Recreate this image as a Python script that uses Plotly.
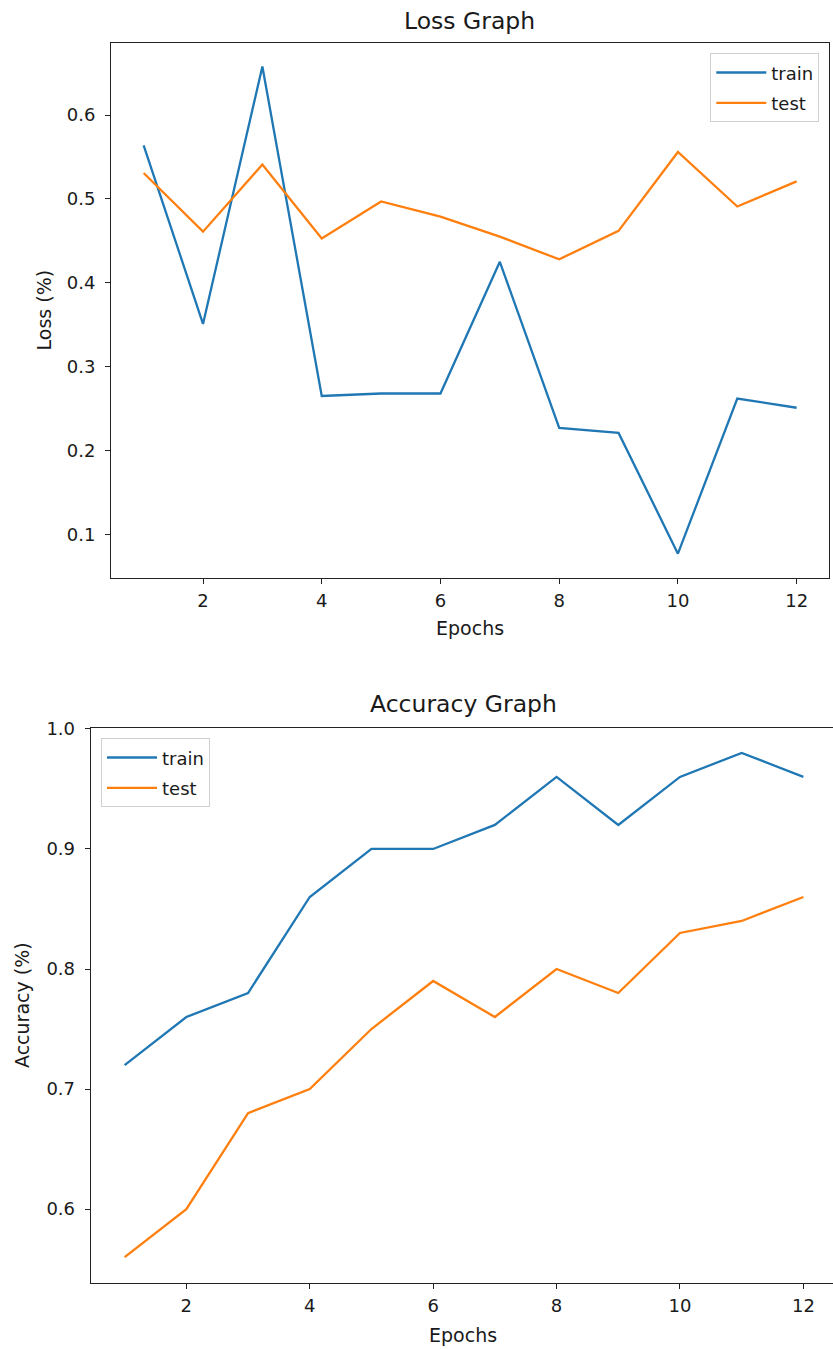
import plotly.graph_objects as go

W, H = 833, 1349

epochs = list(range(1, 13))
loss_train = [0.564, 0.351, 0.658, 0.265, 0.268, 0.268, 0.425, 0.227, 0.221, 0.077, 0.262, 0.251]
loss_test = [0.531, 0.461, 0.541, 0.453, 0.497, 0.479, 0.455, 0.428, 0.462, 0.556, 0.491, 0.521]
acc_train = [0.72, 0.76, 0.78, 0.86, 0.90, 0.90, 0.92, 0.96, 0.92, 0.96, 0.98, 0.96]
acc_test = [0.56, 0.60, 0.68, 0.70, 0.75, 0.79, 0.76, 0.80, 0.78, 0.83, 0.84, 0.86]

x_ticks = [2, 4, 6, 8, 10, 12]
loss_ticks = [0.1, 0.2, 0.3, 0.4, 0.5, 0.6]
acc_ticks = [0.6, 0.7, 0.8, 0.9, 1.0]

BLUE = "#1f77b4"
ORANGE = "#ff7f0e"
FONT = "DejaVu Sans"
TXT = "#1a1a1a"
TICK_SIZE = 18
LABEL_SIZE = 19
TITLE_SIZE = 23.5
LW = 2.3


def px(x):
    return x / W


def py(y):
    return 1 - y / H


fig = go.Figure()

fig.add_trace(go.Scatter(x=epochs, y=loss_train, mode="lines", name="train", legendgroup="a",
                         line=dict(color=BLUE, width=LW), xaxis="x", yaxis="y", legend="legend"))
fig.add_trace(go.Scatter(x=epochs, y=loss_test, mode="lines", name="test", legendgroup="b",
                         line=dict(color=ORANGE, width=LW), xaxis="x", yaxis="y", legend="legend"))
fig.add_trace(go.Scatter(x=epochs, y=acc_train, mode="lines", name="train", legendgroup="c",
                         line=dict(color=BLUE, width=LW), xaxis="x2", yaxis="y2", legend="legend2"))
fig.add_trace(go.Scatter(x=epochs, y=acc_test, mode="lines", name="test", legendgroup="d",
                         line=dict(color=ORANGE, width=LW), xaxis="x2", yaxis="y2", legend="legend2"))

axis_common = dict(
    showgrid=False, zeroline=False, showline=True, linecolor="#222222", linewidth=1.1,
    ticks="outside", ticklen=5, tickwidth=1.1, tickcolor="#222222",
    tickfont=dict(family=FONT, size=TICK_SIZE, color=TXT), automargin=False,
)

legend_common = dict(
    bgcolor="rgba(255,255,255,0.8)", bordercolor="#d0d0d0", borderwidth=1,
    font=dict(family=FONT, size=TICK_SIZE, color=TXT), itemwidth=50,
    traceorder="grouped", tracegroupgap=4,
)

fig.update_layout(
    width=W, height=H,
    margin=dict(l=0, r=0, t=0, b=0),
    paper_bgcolor="white", plot_bgcolor="white",
    template="none",
    font=dict(family=FONT, size=TICK_SIZE, color=TXT),
    xaxis=dict(domain=[px(111), px(829.3)], range=[0.45, 12.55], tickvals=x_ticks,
               anchor="y", mirror=True, ticklabelstandoff=2, **axis_common),
    yaxis=dict(domain=[py(577.7), py(43)], range=[0.0483, 0.686], tickvals=loss_ticks,
               tickformat=".1f", anchor="x", mirror=True, ticklabelstandoff=6, **axis_common),
    xaxis2=dict(domain=[px(90.7), 1.0], range=[0.45, 12.48], tickvals=x_ticks,
                anchor="y2", mirror=True, ticklabelstandoff=2, **axis_common),
    yaxis2=dict(domain=[py(1282.7), py(727.7)], range=[0.5387, 1.001], tickvals=acc_ticks,
                tickformat=".1f", anchor="x2", mirror=False, ticklabelstandoff=6, **axis_common),
    legend=dict(x=px(819.3), y=py(53.3), xanchor="right", yanchor="top", **legend_common),
    legend2=dict(x=px(101), y=py(738.3), xanchor="left", yanchor="top", **legend_common),
    showlegend=True,
)

annotations = [
    dict(text="Loss Graph", x=px(469), y=py(21.5), font=dict(size=TITLE_SIZE)),
    dict(text="Accuracy Graph", x=px(463), y=py(704), font=dict(size=TITLE_SIZE)),
    dict(text="Epochs", x=px(470), y=py(628), font=dict(size=LABEL_SIZE)),
    dict(text="Epochs", x=px(463), y=py(1335), font=dict(size=LABEL_SIZE)),
    dict(text="Loss (%)", x=px(44), y=py(310.4), textangle=-90, font=dict(size=LABEL_SIZE)),
    dict(text="Accuracy (%)", x=px(22), y=py(1005), textangle=-90, font=dict(size=LABEL_SIZE)),
]
for a in annotations:
    a.update(xref="paper", yref="paper", showarrow=False, xanchor="center", yanchor="middle")
    a["font"].update(family=FONT, color=TXT)
    fig.add_annotation(**a)

fig.write_html(
    "out.html",
    config={"displayModeBar": False},
    post_script="document.body.style.margin='0';document.body.style.padding='0';"
                "document.body.style.overflow='hidden';",
)
